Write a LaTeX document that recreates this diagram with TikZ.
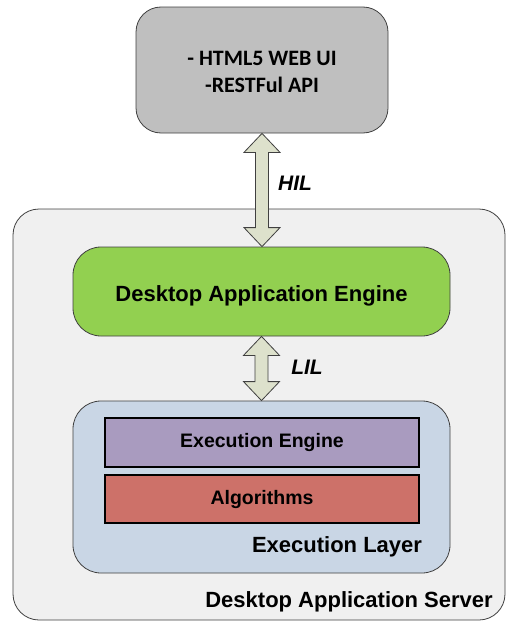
\documentclass[tikz,border=0pt]{standalone}
\usepackage{fontspec}
\setmainfont{Liberation Sans}
\newfontfamily\calibri{Carlito}
\usetikzlibrary{calc}
\definecolor{serverfill}{HTML}{F0F0F0}
\definecolor{guifill}{HTML}{BFBFBF}
\definecolor{enginefill}{HTML}{92D050}
\definecolor{layerfill}{HTML}{C9D6E5}
\definecolor{execfill}{HTML}{A99BBF}
\definecolor{algofill}{HTML}{CD7169}
\definecolor{arrowfill}{HTML}{DDE1CC}
\tikzset{
  roundbox/.style={draw=black!75, line width=0.8pt, rounded corners=#1},
  flatbox/.style={draw=black, line width=1.2pt, minimum width=314pt},
  boldtext/.style={font=\bfseries\fontsize{22}{26}\selectfont},
  fatarrow/.style={draw=black!75, line width=0.8pt, fill=arrowfill}
}
\newcommand{\fatarrow}[2]{%
  \draw[fatarrow] let \p1=(#1), \p2=(#2) in
    (\x1,\y1) -- (\x1+18pt,\y1-19pt) -- (\x1+6.5pt,\y1-19pt)
    -- (\x1+6.5pt,\y2+19pt) -- (\x1+18pt,\y2+19pt) -- (\x1,\y2)
    -- (\x1-18pt,\y2+19pt) -- (\x1-6.5pt,\y2+19pt)
    -- (\x1-6.5pt,\y1-19pt) -- (\x1-18pt,\y1-19pt) -- cycle;}
\begin{document}
\begin{tikzpicture}[x=1pt,y=-1pt]
  \useasboundingbox (0,0) rectangle (506,621);
  \begin{scope}
    \clip (0,0) rectangle (506,621);
    \draw[roundbox=26pt, fill=serverfill] (13,209) rectangle (505,620);
  \end{scope}
  \node[roundbox=25pt, fill=guifill, minimum width=252pt, minimum height=126pt]
        (gui) at (262,70) {};
  \node[align=center, font=\calibri\bfseries\fontsize{22}{27}\selectfont]
        (guitext) at (262,72) {- HTML5 WEB UI\\-RESTFul API};
  \node[roundbox=28pt, fill=enginefill, minimum width=377pt, minimum height=89pt]
        (engine) at (261.5,291.5) {};
  \node[boldtext] (enginelabel) at (261.5,296) {Desktop Application Engine};
  \node[roundbox=28pt, fill=layerfill, minimum width=377pt, minimum height=172pt]
        (layer) at (261.5,487) {};
  \node[flatbox, fill=execfill, minimum height=49pt,
        font=\bfseries\fontsize{19.5}{23}\selectfont] (exec) at (262,442.5) {Execution Engine};
  \node[flatbox, fill=algofill, minimum height=48pt,
        font=\bfseries\fontsize{19.5}{23}\selectfont] (algo) at (262,499) {Algorithms};
  \node[boldtext] (layerlabel) at (337,547) {Execution Layer};
  \node[boldtext] (serverlabel) at (349,602) {Desktop Application Server};
  \fatarrow{gui.south}{engine.north}
  \fatarrow{engine.south}{layer.north}
  \node[font=\bfseries\itshape\fontsize{21}{25}\selectfont] (hil) at (295,183) {HIL};
  \node[font=\bfseries\itshape\fontsize{21}{25}\selectfont] (lil) at (307,367) {LIL};
\end{tikzpicture}
\end{document}
